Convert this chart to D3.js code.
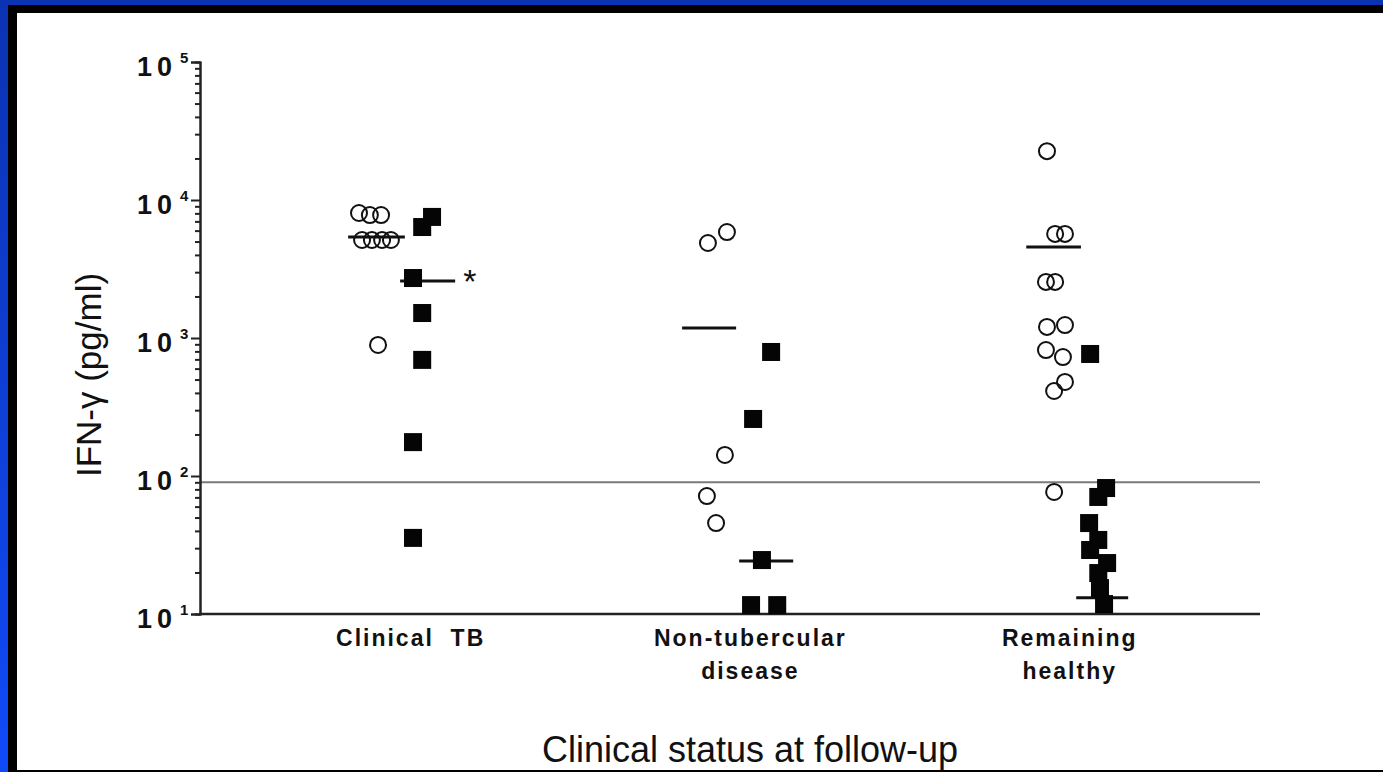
<!DOCTYPE html>
<html>
<head>
<meta charset="utf-8">
<script src="https://cdn.jsdelivr.net/npm/d3@7"></script>
<style>
  body { margin: 0; background: #fff; }
  svg { display: block; }
  text { font-family: "Liberation Sans", Arial, sans-serif; fill: #111; }
</style>
</head>
<body>
<script>
var width = 1383,
    height = 772;

// groups along the x axis (position in group units)
var categories = [
  { pos: 1.05, lines: ["Clinical  TB"] },
  { pos: 2.05, lines: ["Non-tubercular", "disease"] },
  { pos: 2.99, lines: ["Remaining", "healthy"] }
];

// open circles: [x position, IFN-gamma pg/ml]
var openCircles = [
  [0.898, 8050], [0.930, 7780], [0.963, 7780],
  [0.907, 5130], [0.936, 5130], [0.966, 5130], [0.992, 5130],
  [0.954, 890],
  [1.925, 4880], [1.981, 5860], [1.975, 142], [1.922, 71.6], [1.949, 45.6],
  [2.923, 22600], [2.947, 5680], [2.976, 5680], [2.920, 2550], [2.947, 2550],
  [2.923, 1203], [2.976, 1242], [2.920, 818], [2.970, 728], [2.976, 480],
  [2.944, 413], [2.944, 76.6]
];

// filled squares: [x position, IFN-gamma pg/ml]
var filledSquares = [
  [1.113, 7540], [1.084, 6370], [1.057, 2720], [1.084, 1517], [1.084, 694],
  [1.057, 176], [1.057, 35.6],
  [2.111, 792], [2.058, 259], [2.084, 24.6], [2.052, 11.6], [2.129, 11.6],
  [3.050, 766], [3.097, 81.8], [3.074, 70.5], [3.047, 45.6], [3.074, 34.4],
  [3.050, 29.1], [3.100, 23.4], [3.074, 19.8], [3.079, 15.4], [3.091, 11.8]
];

// median bars: [from, to, value]
var medians = [
  [0.866, 1.033, 5400], [1.019, 1.181, 2590],
  [1.849, 2.008, 1180], [2.017, 2.176, 24.2],
  [2.862, 3.023, 4560], [3.009, 3.162, 13.1]
];

var cutoff = 90;
var decades = [10, 100, 1000, 10000, 100000];
var exponents = ["1", "2", "3", "4", "5"];

var svg = d3.select("body").append("svg")
    .attr("width", width)
    .attr("height", height);

// slide frame
var grad = svg.append("defs").append("linearGradient")
    .attr("id", "blue").attr("x1", 0).attr("y1", 0).attr("x2", 0).attr("y2", 1);
grad.append("stop").attr("offset", "0%").attr("stop-color", "#0b32b2");
grad.append("stop").attr("offset", "100%").attr("stop-color", "#104af8");

svg.append("rect").attr("width", width).attr("height", height).attr("fill", "url(#blue)");
svg.append("rect").attr("x", 8).attr("y", 5).attr("width", width - 8).attr("height", height - 5).attr("fill", "#000");
svg.append("rect").attr("x", 17).attr("y", 13).attr("width", width - 17).attr("height", 757).attr("fill", "#fff");

var x = d3.scaleLinear().domain([0.43, 3.55]).range([200, 1260]);
var y = d3.scaleLog().domain([10, 100000]).range([614, 62]);

// cutoff line
svg.append("line")
    .attr("x1", x(0.43)).attr("x2", x(3.55))
    .attr("y1", y(cutoff)).attr("y2", y(cutoff))
    .attr("stroke", "#7a7a7a").attr("stroke-width", 2);

// y axis: minor then major ticks
var minor = [];
decades.slice(0, 4).forEach(function (d) {
    for (var k = 2; k <= 9; k++) minor.push(d * k);
});

var yAxis = svg.append("g").attr("transform", "translate(" + x(0.43) + ",0)");
yAxis.call(d3.axisLeft(y).tickValues(minor).tickSize(5).tickFormat(""));
yAxis.call(function (g) {
    g.append("g").call(d3.axisLeft(y).tickValues(decades).tickSize(9).tickFormat(""));
});
yAxis.selectAll("path").attr("stroke", "#222").attr("stroke-width", 2);
yAxis.selectAll("line").attr("stroke", "#222").attr("stroke-width", 2);

// decade labels
var lab = svg.append("g").selectAll("g")
    .data(decades).enter().append("g");
lab.append("text")
    .attr("x", 137)
    .attr("y", function (d) { return y(d) + 14; })
    .attr("font-size", 27)
    .attr("font-weight", "bold")
    .attr("letter-spacing", 5)
    .text("10");
lab.append("text")
    .attr("x", 180)
    .attr("y", function (d) { return y(d) + 1; })
    .attr("font-size", 15)
    .attr("font-weight", "bold")
    .text(function (d, i) { return exponents[i]; });

// x axis line
svg.append("line")
    .attr("x1", x(0.43) - 1).attr("x2", x(3.55))
    .attr("y1", y(10)).attr("y2", y(10))
    .attr("stroke", "#222").attr("stroke-width", 2.5);

// category labels
var cat = svg.append("g").selectAll("text")
    .data(categories).enter().append("text")
    .attr("text-anchor", "middle")
    .attr("font-size", 23)
    .attr("font-weight", "bold")
    .attr("letter-spacing", 2)
    .style("white-space", "pre")
    .attr("x", function (d) { return x(d.pos); })
    .attr("y", 646);
cat.selectAll("tspan")
    .data(function (d) { return d.lines.map(function (l) { return { t: l, p: d.pos }; }); })
    .enter().append("tspan")
    .attr("x", function (d) { return x(d.p); })
    .attr("dy", function (d, i) { return i ? 33 : 0; })
    .text(function (d) { return d.t; });

// medians
svg.append("g").selectAll("line")
    .data(medians).enter().append("line")
    .attr("x1", function (d) { return x(d[0]); })
    .attr("x2", function (d) { return x(d[1]); })
    .attr("y1", function (d) { return y(d[2]); })
    .attr("y2", function (d) { return y(d[2]); })
    .attr("stroke", "#111").attr("stroke-width", 3);

// significance mark
svg.append("text")
    .attr("x", x(1.205))
    .attr("y", y(2590) + 12)
    .attr("font-size", 34)
    .text("*");

// squares
svg.append("g").selectAll("rect")
    .data(filledSquares).enter().append("rect")
    .attr("x", function (d) { return x(d[0]) - 9; })
    .attr("y", function (d) { return y(d[1]) - 9; })
    .attr("width", 18).attr("height", 18)
    .attr("fill", "#050505");

// circles
svg.append("g").selectAll("circle")
    .data(openCircles).enter().append("circle")
    .attr("cx", function (d) { return x(d[0]); })
    .attr("cy", function (d) { return y(d[1]); })
    .attr("r", 8)
    .attr("fill", "none")
    .attr("stroke", "#111").attr("stroke-width", 2);

// axis titles
svg.append("text")
    .attr("transform", "translate(101,375) rotate(-90)")
    .attr("text-anchor", "middle")
    .attr("font-size", 35)
    .text("IFN-γ (pg/ml)");

svg.append("text")
    .attr("x", 750).attr("y", 762)
    .attr("text-anchor", "middle")
    .attr("font-size", 36)
    .text("Clinical status at follow-up");
</script>
</body>
</html>
